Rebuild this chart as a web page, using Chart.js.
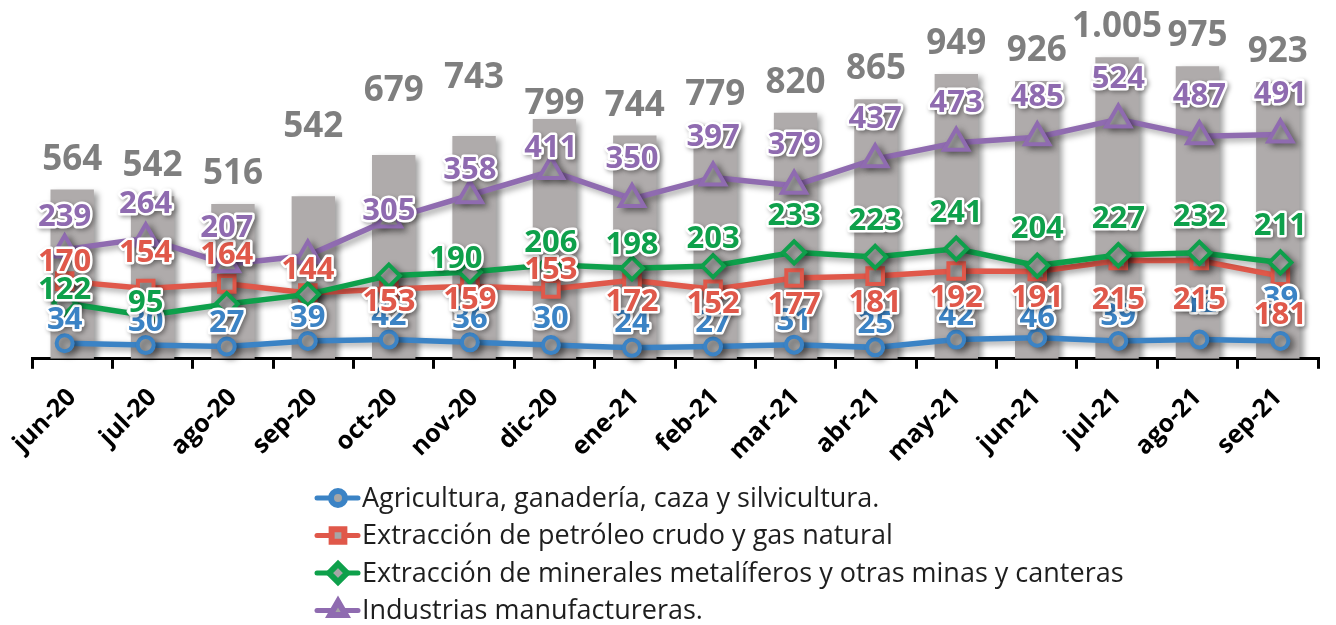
<!DOCTYPE html>
<html>
<head>
<meta charset="utf-8">
<script src="https://cdn.jsdelivr.net/npm/chart.js@4.4.0/dist/chart.umd.min.js"></script>
<style>
    body { margin: 0; background: #fff; }
    canvas { display: block; }
</style>
</head>
<body>
<canvas id="grafico" width="1336" height="625"></canvas>
<script>
// Datos
var meses = ["jun-20", "jul-20", "ago-20", "sep-20", "oct-20", "nov-20", "dic-20", "ene-21",
             "feb-21", "mar-21", "abr-21", "may-21", "jun-21", "jul-21", "ago-21", "sep-21"];
var total = [564, 542, 516, 542, 679, 743, 799, 744, 779, 820, 865, 949, 926, 1005, 975, 923];
var agricultura = [34, 30, 27, 39, 42, 36, 30, 24, 27, 31, 25, 42, 46, 39, 42, 39];
var petroleo = [170, 154, 164, 144, 153, 159, 153, 172, 152, 177, 181, 192, 191, 215, 215, 181];
var minerales = [122, 95, 120, 141, 182, 190, 206, 198, 203, 233, 223, 241, 204, 227, 232, 211];
var manufactura = [239, 264, 207, 226, 305, 358, 411, 350, 397, 379, 437, 473, 485, 524, 487, 491];

var FUENTE = "'Open Sans', sans-serif";
var GRIS_MARCA = "#a6a6a6";

function formato(v) {
    // separador de miles con punto
    if (v >= 1000) return Math.floor(v / 1000) + "." + String(v % 1000).padStart(3, "0");
    return String(v);
}

function puntos(arr) {
    return arr.map(function (v, i) { return { x: i, y: v }; });
}

// posición de las etiquetas: dy por defecto y ajustes por punto (null = oculta)
var etqTotal = { dy: -30, ajuste: { 3: -69, 4: -64, 5: -58, 6: -15 } };
var etqAgri = { dy: -23, ajuste: { 6: -26, 7: -25, 12: -20, 13: -25, 14: -36, 15: -42 } };
var etqPetro = { dy: 27, ajuste: { 0: -19, 1: -35, 2: -29, 3: -23, 4: 13, 5: 14, 6: -19, 7: 22, 8: 15, 13: 40, 14: 40, 15: 39 } };
var etqMin = { dy: -36, ajuste: { 0: -13, 1: -12, 2: null, 3: null, 4: null, 5: -13, 6: -22, 7: -23, 8: -27 }, dx: { 5: -14 } };
var etqManuf = { dy: -40, ajuste: { 0: -32, 1: -34, 2: -36, 3: null, 4: -8, 5: -25, 6: -23 } };

var serie = function (nombre, datos, color, estilo, radio, etq, orden) {
    return {
        type: "line",
        label: nombre,
        data: puntos(datos),
        xAxisID: "xl",
        yAxisID: "y2",
        borderColor: color,
        borderWidth: 5.5,
        pointStyle: estilo,
        pointRadius: radio,
        pointBorderWidth: 4,
        pointBackgroundColor: GRIS_MARCA,
        pointBorderColor: color,
        tension: 0,
        clip: false,
        order: orden,
        etiqueta: etq,
        colorTexto: color
    };
};

var sombra = {
    id: "sombra",
    beforeDatasetDraw: function (chart) {
        var ctx = chart.ctx;
        ctx.save();
        ctx.shadowColor = "rgba(0,0,0,0.38)";
        ctx.shadowBlur = 6;
        ctx.shadowOffsetX = 4;
        ctx.shadowOffsetY = 3;
    },
    afterDatasetDraw: function (chart) {
        chart.ctx.restore();
    }
};

var etiquetas = {
    id: "etiquetas",
    afterDatasetsDraw: function (chart) {
        var ctx = chart.ctx;
        var orden = [0, 1, 2, 3, 4];
        orden.forEach(function (d) {
            var ds = chart.data.datasets[d];
            var meta = chart.getDatasetMeta(d);
            var etq = ds.etiqueta;
            meta.data.forEach(function (el, i) {
                var dy = etq.dy;
                if (etq.ajuste && i in etq.ajuste) dy = etq.ajuste[i];
                if (dy === null) return;
                var dx = (etq.dx && etq.dx[i]) || 0;
                var valor = ds.type === "line" ? ds.data[i].y : ds.data[i];
                var x = el.x + dx, y = el.y + dy;
                ctx.save();
                ctx.textAlign = "center";
                ctx.textBaseline = "middle";
                if (ds.type === "line") {
                    ctx.font = "bold 31px " + FUENTE;
                    ctx.lineJoin = "round";
                    ctx.lineWidth = 5;
                    ctx.strokeStyle = "#fff";
                    ctx.shadowColor = "rgba(0,0,0,0.35)";
                    ctx.shadowBlur = 4;
                    ctx.shadowOffsetX = 2;
                    ctx.shadowOffsetY = 2;
                    ctx.strokeText(formato(valor), x, y);
                    ctx.shadowColor = "transparent";
                    ctx.fillStyle = ds.colorTexto;
                    ctx.fillText(formato(valor), x, y);
                } else {
                    ctx.font = "bold 35px " + FUENTE;
                    ctx.fillStyle = "#7f7f7f";
                    ctx.fillText(formato(valor), x, y);
                }
                ctx.restore();
            });
        });
    }
};

var leyenda = {
    id: "leyenda",
    afterDraw: function (chart) {
        var ctx = chart.ctx;
        var items = [1, 2, 3, 4];
        items.forEach(function (d, k) {
            var ds = chart.data.datasets[d];
            var y = 498 + k * 37.5;
            ctx.save();
            ctx.strokeStyle = ds.borderColor;
            ctx.lineWidth = 5;
            ctx.lineCap = "round";
            ctx.beginPath();
            ctx.moveTo(317, y);
            ctx.lineTo(358, y);
            ctx.stroke();
            ctx.fillStyle = GRIS_MARCA;
            ctx.lineWidth = 6;
            Chart.helpers.drawPoint(ctx, {
                pointStyle: ds.pointStyle,
                radius: ds.pointStyle === "circle" ? 7 : 9,
                borderWidth: 6,
                rotation: 0
            }, 338, y);
            ctx.fillStyle = "#1e1e1e";
            ctx.font = "27px " + FUENTE;
            ctx.textAlign = "left";
            ctx.textBaseline = "middle";
            ctx.fillText(ds.label, 362, y + 1);
            ctx.restore();
        });
    }
};

var ctx = document.getElementById("grafico").getContext("2d");
var grafico = new Chart(ctx, {
    type: "bar",
    data: {
        labels: meses,
        datasets: [
            {
                type: "bar",
                label: "Total",
                data: total,
                backgroundColor: "#afabab",
                grouped: false,
                barPercentage: 0.54,
                categoryPercentage: 1,
                maxBarThickness: 44,
                order: 5,
                etiqueta: etqTotal
            },
            serie("Agricultura, ganadería, caza y silvicultura.", agricultura, "#3b83c5", "circle", 8, etqAgri, 4),
            serie("Extracción de petróleo crudo y gas natural", petroleo, "#e0584a", "rect", 11, etqPetro, 3),
            serie("Extracción de minerales metalíferos y otras minas y canteras", minerales, "#0ea04b", "rectRot", 11, etqMin, 2),
            serie("Industrias manufactureras.", manufactura, "#8f6bb0", "triangle", 14, etqManuf, 1)
        ]
    },
    options: {
        responsive: false,
        animation: false,
        events: [],
        layout: { padding: { top: 13, right: 6, bottom: 143, left: 32 } },
        plugins: {
            legend: { display: false },
            tooltip: { enabled: false }
        },
        scales: {
            x: {
                type: "category",
                offset: true,
                grid: { offset: true, drawOnChartArea: false, color: "#000", lineWidth: 3, tickLength: 10 },
                border: { color: "#000", width: 3 },
                ticks: {
                    color: "#000",
                    font: { family: FUENTE, size: 25, weight: "bold" },
                    minRotation: 45,
                    maxRotation: 45,
                    autoSkip: false,
                    padding: 14
                }
            },
            xl: { type: "linear", display: false, offset: false, grid: { offset: false }, min: -0.403, max: 15.464 },
            y: { display: false, min: 0, max: 1136 },
            y2: { display: false, min: 0, max: 746 }
        }
    },
    plugins: [sombra, etiquetas, leyenda]
});
</script>
</body>
</html>
